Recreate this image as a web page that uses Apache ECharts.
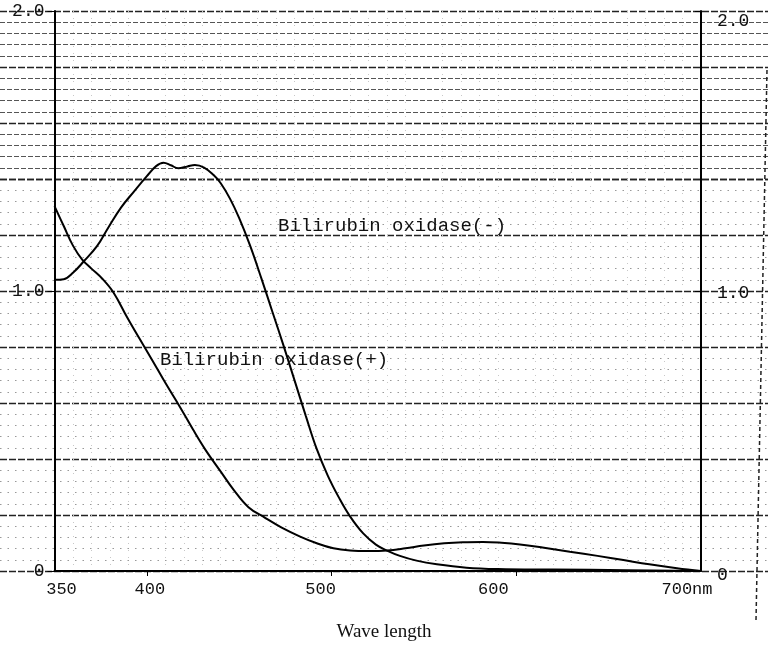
<!DOCTYPE html>
<html>
<head>
<meta charset="utf-8">
<script src="https://cdn.jsdelivr.net/npm/echarts@6/dist/echarts.min.js"></script>
<style>html,body{margin:0;padding:0;background:#fff}#c{width:768px;height:655px}</style>
</head>
<body>
<div id="c"></div>
<script>
// Wavelength (nm) / absorbance for Bilirubin oxidase(-)
const minusNm  = [350,355,360,366,373,379,386,393,400,405,409,413,417,422,426,431,436,440,445,450,456,462,468,474,480,486,492,498,504,510,517,524,530,537,546,557,573,590,620,660,700];
const minusAbs = [1.04,1.042,1.065,1.107,1.16,1.225,1.298,1.355,1.41,1.446,1.458,1.449,1.438,1.445,1.450,1.441,1.415,1.385,1.33,1.26,1.16,1.045,0.925,0.805,0.68,0.555,0.435,0.34,0.262,0.195,0.135,0.094,0.073,0.054,0.037,0.024,0.012,0.007,0.005,0.003,0];
// Wavelength (nm) / absorbance for Bilirubin oxidase(+)
const plusNm  = [350,355,360,365,370,376,382,389,396,403,410,418,425,432,440,447,455,464,473,483,492,501,510,520,530,540,550,561,571,582,592,602,615,629,644,658,672,687,700];
const plusAbs = [1.303,1.232,1.162,1.112,1.08,1.043,0.994,0.91,0.83,0.752,0.672,0.585,0.505,0.43,0.355,0.29,0.228,0.19,0.155,0.123,0.099,0.081,0.073,0.071,0.073,0.081,0.091,0.099,0.103,0.104,0.101,0.095,0.083,0.069,0.054,0.039,0.024,0.010,0];

const xTickValues = [350,400,500,600,700];
const xTickLabels = ['350','400','500','600','700nm'];
const yTickValues = [0,1,2];
const yTickLabels = ['0','1.0','2.0'];
const seriesNames = ['Bilirubin oxidase(-)','Bilirubin oxidase(+)'];
const xTitle = 'Wave length';

const xShift = [7,3,-11,-23,-14];
const richX = {};
xShift.forEach((d,i)=>{
  richX['s'+i] = {fontFamily:'Liberation Mono', fontSize:17, color:'#111',
    padding: d>0 ? [0,0,0,2*d] : [0,-2*d,0,0]};
});
const yRightShift = [8,4,20];
const richYR = {};
yRightShift.forEach((d,i)=>{
  richYR['r'+i] = {fontFamily:'Liberation Mono', fontSize:18, color:'#111', padding:[d,0,0,0]};
});

const chart = echarts.init(document.getElementById('c'), null, {renderer:'canvas'});
const mono = 'Liberation Mono';
const GL = 54.5, GR = 67, GT = 11, GB = 84;

function paperY(grid, min, max, minorColor, minorType){
  return {type:'value', gridIndex:grid, min:min, max:max, interval:0.2,
    axisLine:{show:false}, axisTick:{show:false}, axisLabel:{show:false},
    splitLine:{show:true, lineStyle:{color:'#222', type:[7,2], width:1.3}},
    minorTick:{show:false, splitNumber:5},
    minorSplitLine:{show:true, lineStyle:{color:minorColor, type:minorType, width:1}}};
}

chart.setOption({
  backgroundColor:'#fff',
  animation:false,
  grid:[
    {left:GL, right:GR, top:GT, bottom:GB},
    {left:0, right:0, top:GT, bottom:655-GT-168},
    {left:0, right:0, top:GT+168, bottom:GB}
  ],
  xAxis:[
    {type:'value', gridIndex:0, min:350, max:700, interval:50,
     axisLine:{show:true, onZero:false, lineStyle:{color:'#000', width:2}},
     axisTick:{show:true, customValues:[400,500,600], length:5, lineStyle:{color:'#000'}},
     axisLabel:{customValues:xTickValues, margin:10,
       formatter:(v)=>{const i=xTickValues.indexOf(v); return i<0?'':'{s'+i+'|'+xTickLabels[i]+'}';},
       rich:richX},
     splitLine:{show:false},
     minorTick:{show:false, splitNumber:5},
     minorSplitLine:{show:true, lineStyle:{color:'#c8c8c8', type:[1,6], width:1}}
    },
    {type:'value', gridIndex:1, min:0, max:1, show:false},
    {type:'value', gridIndex:2, min:0, max:1, show:false}
  ],
  yAxis:[
    {type:'value', gridIndex:0, min:0, max:2, interval:1, position:'left',
     axisLine:{show:true, lineStyle:{color:'#000', width:2}},
     axisTick:{show:true, length:7, lineStyle:{color:'#000'}},
     axisLabel:{margin:10, fontFamily:mono, fontSize:18, color:'#111',
       formatter:(v)=>{const i=yTickValues.indexOf(v); return i<0?'':yTickLabels[i];}},
     splitLine:{show:false}
    },
    {type:'value', gridIndex:0, min:0, max:2, interval:1, position:'right',
     axisLine:{show:true, lineStyle:{color:'#000', width:2}},
     axisTick:{show:true, inside:true, length:6, lineStyle:{color:'#000'}},
     axisLabel:{margin:16,
       formatter:(v)=>{const i=yTickValues.indexOf(v); return i<0?'':'{r'+i+'|'+yTickLabels[i]+'}';},
       rich:richYR},
     splitLine:{show:false}
    },
    paperY(1, 1.4, 2.0, '#555', [5,2]),
    paperY(2, 0, 1.4, '#999', [1.5,6])
  ],
  series:[
    {name:seriesNames[0], type:'line', xAxisIndex:0, yAxisIndex:0, smooth:0.4, symbol:'none',
     lineStyle:{color:'#000', width:2}, z:5,
     data:minusNm.map((x,i)=>[x,minusAbs[i]])},
    {name:seriesNames[1], type:'line', xAxisIndex:0, yAxisIndex:0, smooth:0.4, symbol:'none',
     lineStyle:{color:'#000', width:2}, z:5,
     data:plusNm.map((x,i)=>[x,plusAbs[i]])}
  ],
  graphic:[
    {type:'text', left:278, top:216, z:10,
     style:{text:seriesNames[0], font:'19px "Liberation Mono"', fill:'#111'}},
    {type:'text', left:160, top:350, z:10,
     style:{text:seriesNames[1], font:'19px "Liberation Mono"', fill:'#111'}},
    {type:'text', left:'center', top:623, z:10,
     style:{text:xTitle, font:'19px "Liberation Serif"', fill:'#111', x:8}},
    {type:'line', z:10, shape:{x1:767, y1:70, x2:756, y2:620},
     style:{stroke:'#222', lineWidth:1.5, lineDash:[4,3]}}
  ]
});
</script>
</body>
</html>
